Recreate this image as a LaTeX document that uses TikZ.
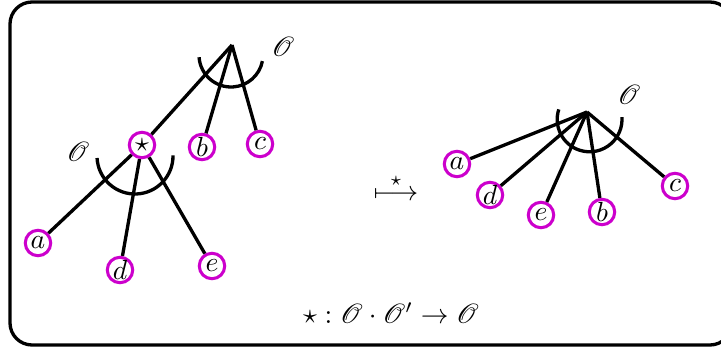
\documentclass[tikz,border=0pt]{standalone}
\usepackage{mathrsfs}
\usepackage{xcolor}
\definecolor{leafmag}{rgb}{0.8,0.0,0.8}

\tikzset{
  leaf/.style={circle,draw=leafmag,line width=1.1pt,inner sep=0pt,minimum size=9.2pt},
  branch/.style={line width=1.2pt},
}

\begin{document}
\begin{tikzpicture}[x=0.127cm,y=0.127cm]
  \useasboundingbox (0,0) rectangle (72.1,35.2);
  \draw[line width=1.2pt,rounded corners=2.8mm] (1.0,0.7) rectangle (73.2,35.0);

  % tree before grafting
  \coordinate (r1) at (23.2,30.7);
  \node[leaf] (s1) at (14.2,20.7) {$\star$};
  \node[leaf] (b1) at (20.2,20.5) {$b$};
  \node[leaf] (c1) at (26.0,20.8) {$c$};
  \node[leaf] (a1) at (3.8,10.9) {$a$};
  \node[leaf] (d1) at (12.0,8.2) {$d$};
  \node[leaf] (e1) at (21.2,8.6) {$e$};
  \foreach \x in {s1,b1,c1}{
    \draw[branch] (r1) -- (\x);
  }
  \foreach \x in {a1,d1,e1}{
    \draw[branch] (s1) -- (\x);
  }
  \draw[branch] (23.1,29.7) ++(184:3.2) arc (184:349:3.2);
  \draw[branch] (13.5,19.6) ++(183:3.8) arc (183:361:3.8);
  \node (o1) at (28.3,30.5) {$\mathscr{O}$};
  \node (o2) at (7.8,20.0) {$\mathscr{O}$};

  \node (map) at (39.6,16.5) {$\stackrel{\star}{\longmapsto}$};

  % tree after grafting
  \coordinate (r2) at (58.7,24.0);
  \node[leaf] (a2) at (45.7,18.8) {$a$};
  \node[leaf] (d2) at (49.0,15.7) {$d$};
  \node[leaf] (e2) at (54.1,13.7) {$e$};
  \node[leaf] (b2) at (60.2,14.0) {$b$};
  \node[leaf] (c2) at (67.5,16.6) {$c$};
  \foreach \x in {a2,d2,e2,b2,c2}{
    \draw[branch] (r2) -- (\x);
  }
  \draw[branch] (58.96,23.26) ++(162:3.24) arc (162:364:3.24);
  \node (o3) at (62.9,25.7) {$\mathscr{O}$};

  \node (rule) at (39.1,3.9) {$\star:\mathscr{O}\cdot\mathscr{O}'\to\mathscr{O}$};
\end{tikzpicture}
\end{document}
